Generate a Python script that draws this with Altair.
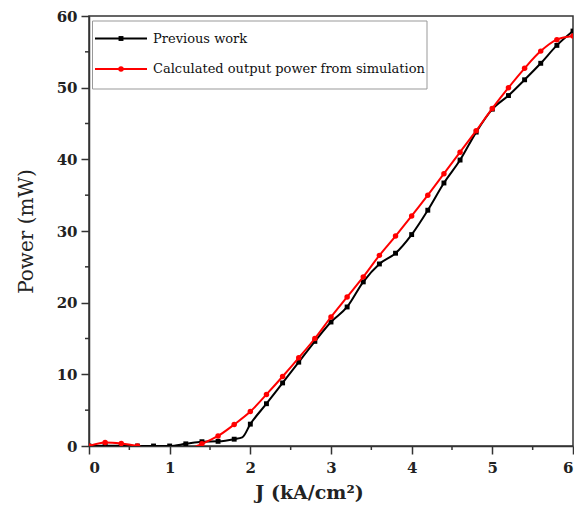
import altair as alt
import pandas as pd

# ---- data ----
series_names = ["Previous work", "Calculated output power from simulation"]
series_colors = ["#000000", "#ff0000"]

prev_j = [0, 0.2, 0.4, 0.6, 0.8, 1.0, 1.2, 1.4, 1.6, 1.8, 1.9, 2.0, 2.2, 2.4, 2.6, 2.8,
          3.0, 3.2, 3.4, 3.6, 3.8, 4.0, 4.2, 4.4, 4.6, 4.8, 5.0, 5.2, 5.4, 5.6, 5.8, 6.0]
prev_p = [0, 0.05, 0.05, 0, 0, 0, 0.3, 0.6, 0.65, 0.95, 1.2, 3.05, 5.9, 8.8, 11.7, 14.6,
          17.3, 19.4, 22.9, 25.4, 26.9, 29.5, 32.9, 36.7, 39.9, 43.8, 47.0, 48.9, 51.1, 53.4, 55.9, 57.9]
prev_marker = [True] * len(prev_j)
prev_marker[prev_j.index(1.9)] = False

sim_j = [0, 0.2, 0.4, 0.6, 0.8, 1.0, 1.2, 1.4, 1.6, 1.8, 2.0, 2.2, 2.4, 2.6, 2.8,
         3.0, 3.2, 3.4, 3.6, 3.8, 4.0, 4.2, 4.4, 4.6, 4.8, 5.0, 5.2, 5.4, 5.6, 5.8, 6.0]
sim_p = [0, 0.5, 0.35, 0, -0.5, -0.6, -0.5, 0.3, 1.4, 3.0, 4.8, 7.2, 9.7, 12.3, 15.0,
         18.0, 20.8, 23.6, 26.6, 29.3, 32.1, 35.0, 38.0, 41.0, 44.0, 47.1, 50.0, 52.7, 55.1, 56.7, 57.2]

x_ticks = [0, 1, 2, 3, 4, 5, 6]
x_minor = [0.5, 1.5, 2.5, 3.5, 4.5, 5.5]
y_ticks = [0, 10, 20, 30, 40, 50, 60]
y_minor = [5, 15, 25, 35, 45, 55]

W, H = 484, 430
FONT = "DejaVu Serif"

prev_df = pd.DataFrame({"J": prev_j, "P": prev_p, "marker": prev_marker})
sim_df = pd.DataFrame({"J": sim_j, "P": sim_p})

xs = alt.Scale(domain=[0, 6], nice=False, zero=False)
ys = alt.Scale(domain=[0, 60], nice=False, zero=False)

x_enc = alt.X("J:Q", scale=xs, axis=alt.Axis(
    values=x_ticks, format="d", title="J (kA/cm²)", grid=False, tickSize=8, labelPadding=6,
    labelFont=FONT, labelFontWeight="bold", labelFontSize=15, labelColor="#222",
    titleFont=FONT, titleFontWeight="bold", titleFontSize=19, titleColor="#222",
    titleX=220, titleY=46, titleBaseline="middle", titleAlign="center"))
y_enc = alt.Y("P:Q", scale=ys, axis=alt.Axis(
    values=y_ticks, format="d", title="Power (mW)", grid=False, tickSize=8, labelPadding=4,
    labelFont=FONT, labelFontWeight="bold", labelFontSize=15, labelColor="#222",
    titleFont=FONT, titleFontWeight="normal", titleFontSize=20, titleColor="#222",
    titleX=-63, titleY=215, titleBaseline="middle", titleAlign="center"))

prev_line = alt.Chart(prev_df).mark_line(
    color=series_colors[0], strokeWidth=2, interpolate="monotone", clip=True
).encode(x=x_enc, y=y_enc)
prev_pts = alt.Chart(prev_df).transform_filter("datum.marker").mark_point(
    shape="square", filled=True, size=24, color=series_colors[0], opacity=1, clip=True
).encode(x="J:Q", y="P:Q")

sim_line = alt.Chart(sim_df).mark_line(
    color=series_colors[1], strokeWidth=2, interpolate="monotone", clip=True
).encode(x="J:Q", y="P:Q")
sim_pts = alt.Chart(sim_df).mark_point(
    shape="circle", filled=True, size=30, color=series_colors[1], opacity=1, clip=True
).encode(x="J:Q", y="P:Q")

# minor ticks
xm = alt.Chart(pd.DataFrame({"J": x_minor})).mark_rule(
    color="#333", strokeWidth=1.5).encode(x="J:Q", y=alt.value(H), y2=alt.value(H + 4))
ym = alt.Chart(pd.DataFrame({"P": y_minor})).mark_rule(
    color="#333", strokeWidth=1.5).encode(y="P:Q", x=alt.value(-4), x2=alt.value(0))

# legend (drawn in the plot area, top-left)
one = alt.Data(values=[{"k": 1}])
leg_box = alt.Chart(one).mark_rect(
    fill="white", stroke="#999", strokeWidth=1).encode(
    x=alt.value(3.5), x2=alt.value(338), y=alt.value(5), y2=alt.value(73))
legend_layers = [leg_box]
row_y = [22.5, 53]
shapes = ["square", "circle"]
sizes = [24, 30]
for i, name in enumerate(series_names):
    legend_layers.append(alt.Chart(one).mark_rule(
        color=series_colors[i], strokeWidth=2).encode(
        x=alt.value(6), x2=alt.value(58), y=alt.value(row_y[i])))
    legend_layers.append(alt.Chart(one).mark_point(
        shape=shapes[i], filled=True, size=sizes[i], color=series_colors[i], opacity=1).encode(
        x=alt.value(32), y=alt.value(row_y[i])))
    legend_layers.append(alt.Chart(one).mark_text(
        align="left", baseline="middle", font=FONT, fontSize=13, color="#111").encode(
        x=alt.value(64), y=alt.value(row_y[i]), text=alt.value(name)))

chart = alt.layer(
    prev_line, prev_pts, sim_line, sim_pts, xm, ym, *legend_layers
).properties(
    width=W, height=H,
    autosize=alt.AutoSizeParams(type="none"),
    padding={"left": 81, "top": 8, "right": 1, "bottom": 58},
).configure_view(
    stroke="#333", strokeWidth=1.5
).configure_axis(
    domainColor="#333", domainWidth=1.5, tickColor="#333", tickWidth=1.5
)

chart.save("out.html", embed_options={"renderer": "svg", "actions": False})
